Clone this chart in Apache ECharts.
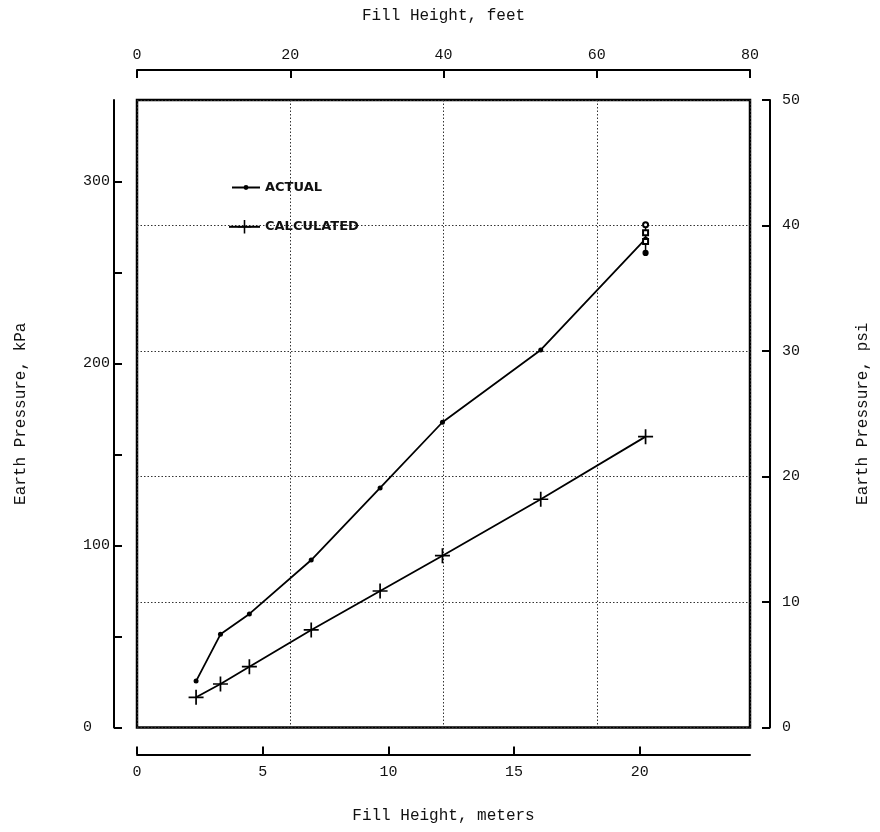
<!DOCTYPE html>
<html>
<head>
<meta charset="utf-8">
<script src="https://cdn.jsdelivr.net/npm/echarts@6/dist/echarts.min.js"></script>
<style>
html,body{margin:0;padding:0;background:#fff;}
#chart{width:880px;height:832px;}
</style>
</head>
<body>
<div id="chart"></div>
<script>
// Fill heights (meters) shared by both series
const fillMeters = [2.35, 3.32, 4.47, 6.93, 9.67, 12.15, 16.06, 20.23];
// Earth pressure, kPa
const actualKPa = [25.5, 51.2, 62.4, 92.0, 131.6, 167.7, 207.4, 268.4];
const calculatedKPa = [16.6, 23.9, 33.4, 53.6, 75.0, 94.4, 125.4, 159.8];
// spread of readings at the last fill height (kPa)
const spreadKPa = [276.2, 271.8, 267.0, 260.7];
const spreadSymbols = ['emptyCircle', 'emptyRect', 'emptyRect', 'circle'];
// tick values
const meterTicks = [0, 5, 10, 15, 20];
const feetTicks = [0, 20, 40, 60, 80];
const kPaTicks = [0, 50, 100, 150, 200, 250, 300];
const kPaLabels = [0, 100, 200, 300];
const psiTicks = [0, 10, 20, 30, 40, 50];

const KPA_PER_PSI = 6.89476;
const M_PER_FT = 0.3048;
const maxFeet = 80, maxPsi = 50;

const mono = 'Liberation Mono';
const plusPath = 'path://M6.2,0 L7.8,0 L7.8,6.2 L14,6.2 L14,7.8 L7.8,7.8 L7.8,14 L6.2,14 L6.2,7.8 L0,7.8 L0,6.2 L6.2,6.2 Z';

const chart = echarts.init(document.getElementById('chart'), null, {renderer: 'canvas'});

const tickLabel = {fontFamily: mono, fontSize: 15, color: '#111'};
const nameStyle = {fontFamily: mono, fontSize: 16, color: '#111'};
const axisLineStyle = {color: '#000', width: 2};
const tickStyle = {color: '#000', width: 2};
const dotted = {color: '#333', width: 1, type: [1.5, 2]};
const legendText = {fontFamily: 'DejaVu Sans', fontSize: 13, fontWeight: 'bold', color: '#111'};

chart.setOption({
  animation: false,
  backgroundColor: '#fff',
  grid: {
    left: 137, right: 130, top: 100, bottom: 104.5,
    show: true, borderColor: '#000', borderWidth: 2.5,
    outerBoundsMode: 'none'
  },
  legend: [
    {
      data: ['ACTUAL'],
      left: 231, top: 181, padding: 0,
      itemWidth: 28, itemHeight: 6, itemGap: 0,
      textStyle: legendText
    },
    {
      data: ['CALCULATED'],
      left: 228, top: 220, padding: 0,
      itemWidth: 31, itemHeight: 17, itemGap: 0,
      textStyle: legendText
    }
  ],
  xAxis: [
    {
      type: 'value', position: 'bottom', offset: 27,
      min: 0, max: maxFeet * M_PER_FT, interval: 5,
      name: 'Fill Height, meters', nameLocation: 'middle', nameGap: 53,
      nameTextStyle: nameStyle,
      axisLine: {show: true, onZero: false, lineStyle: axisLineStyle},
      axisTick: {show: true, inside: true, length: 8, customValues: meterTicks, lineStyle: tickStyle},
      axisLabel: {show: true, margin: 10, customValues: meterTicks, ...tickLabel},
      splitLine: {show: false}
    },
    {
      type: 'value', position: 'top', offset: 30,
      min: 0, max: maxFeet, interval: 20,
      name: 'Fill Height, feet', nameLocation: 'middle', nameGap: 46,
      nameTextStyle: nameStyle,
      axisLine: {show: true, onZero: false, lineStyle: axisLineStyle},
      axisTick: {show: true, inside: true, length: 8, customValues: feetTicks, lineStyle: tickStyle},
      axisLabel: {show: true, margin: 7, customValues: feetTicks, ...tickLabel},
      splitLine: {show: true, lineStyle: dotted}
    }
  ],
  yAxis: [
    {
      type: 'value', position: 'left', offset: 23,
      min: 0, max: maxPsi * KPA_PER_PSI, interval: 50,
      name: 'Earth Pressure, kPa', nameLocation: 'middle', nameGap: 85,
      nameTextStyle: nameStyle,
      axisLine: {show: true, onZero: false, lineStyle: axisLineStyle},
      axisTick: {show: true, inside: true, length: 8, customValues: kPaTicks, lineStyle: tickStyle},
      axisLabel: {show: true, margin: 31, align: 'left', customValues: kPaLabels, ...tickLabel},
      splitLine: {show: false}
    },
    {
      type: 'value', position: 'right', offset: 20,
      min: 0, max: maxPsi, interval: 10,
      name: 'Earth Pressure, psi', nameLocation: 'middle', nameGap: 85,
      nameTextStyle: nameStyle,
      axisLine: {show: true, onZero: false, lineStyle: axisLineStyle},
      axisTick: {show: true, inside: true, length: 8, customValues: psiTicks, lineStyle: tickStyle},
      axisLabel: {show: true, margin: 12, customValues: psiTicks, ...tickLabel},
      splitLine: {show: true, lineStyle: dotted}
    }
  ],
  series: [
    {
      name: 'ACTUAL', type: 'line', xAxisIndex: 0, yAxisIndex: 0,
      data: fillMeters.map((m, i) => [m, actualKPa[i]]),
      symbol: 'circle', symbolSize: 5, showAllSymbol: true,
      lineStyle: {color: '#000', width: 1.8},
      itemStyle: {color: '#000', borderColor: '#000', borderWidth: 0},
      z: 5
    },
    {
      name: 'CALCULATED', type: 'line', xAxisIndex: 0, yAxisIndex: 0,
      data: fillMeters.map((m, i) => [m, calculatedKPa[i]]),
      symbol: plusPath, symbolSize: 15, showAllSymbol: true,
      lineStyle: {color: '#000', width: 1.8},
      itemStyle: {color: '#000', borderWidth: 0},
      z: 5
    },
    {
      name: 'spread', type: 'line', xAxisIndex: 0, yAxisIndex: 0,
      data: spreadKPa.map((v, i) => ({value: [fillMeters[fillMeters.length - 1], v], symbol: spreadSymbols[i]})),
      symbolSize: 5, showAllSymbol: true,
      lineStyle: {color: '#000', width: 1.5},
      itemStyle: {color: '#000', borderColor: '#000', borderWidth: 1.2},
      z: 6
    }
  ]
});
</script>
</body>
</html>
